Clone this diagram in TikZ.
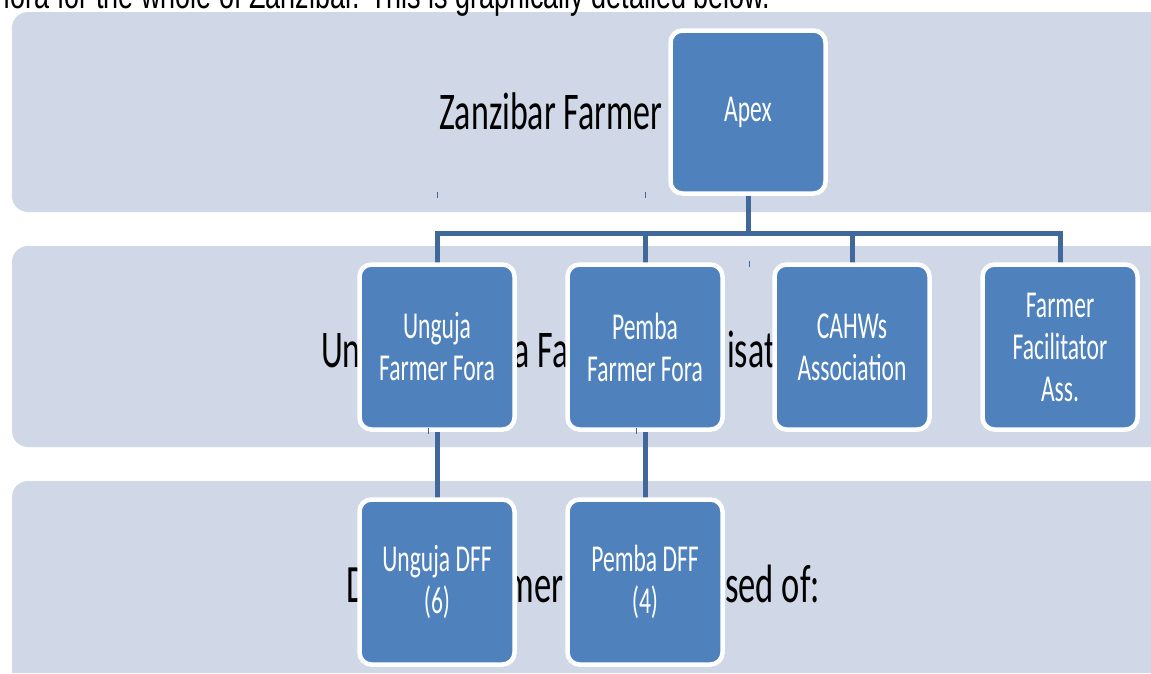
\documentclass[tikz,border=0pt]{standalone}
\usepackage{fontspec}
\newfontfamily\bandfont{Carlito}[FakeStretch=0.64]
\newfontfamily\boxfont{Carlito}[FakeStretch=0.62]
\newfontfamily\docfont{Liberation Sans}[FakeStretch=0.71]
\definecolor{bandfill}{HTML}{D0D8E8}
\definecolor{boxblue}{HTML}{4F81BD}
\definecolor{connblue}{HTML}{40689A}
\pgfdeclarelayer{background}
\pgfdeclarelayer{bands}
\pgfsetlayers{bands,background,main}
\tikzset{
  band/.style={fill=bandfill, draw=none},
  bandtext/.style={anchor=base west, inner sep=0pt, text=black, font=\bandfont\fontsize{53}{60}\selectfont},
  orgbox/.style={fill=boxblue, draw=white, line width=4.5pt, rounded corners=12pt,
    minimum width=155pt, minimum height=165pt, inner sep=0pt, outer sep=0pt,
    align=center, text=white, font=\boxfont\fontsize{38}{42}\selectfont},
  conn/.style={draw=connblue, line width=5pt},
  tick/.style={draw=connblue, line width=1pt}
}
\begin{document}
\begin{tikzpicture}[x=1pt, y=-1pt]
\useasboundingbox (0,0) rectangle (1151,673);
% bands
\begin{pgfonlayer}{bands}
\fill[white] (0,0) rectangle (1151,673);
\path[band] (1151,12) [rounded corners=16pt] -- (12,12) -- (12,212) [sharp corners] -- (1151,212) -- cycle;
\path[band] (1151,246) [rounded corners=16pt] -- (12,246) -- (12,447) [sharp corners] -- (1151,447) -- cycle;
\path[band] (1151,481) [rounded corners=16pt] -- (12,481) [sharp corners] -- (12,673) -- (1151,673) -- cycle;
\end{pgfonlayer}
% document text above the diagram
\begin{scope}
\clip (0,0) rectangle (1151,673);
\node[anchor=base west, inner sep=0pt, font=\docfont\fontsize{38}{40}\selectfont] (doc) at (3,8) {fora for the whole of Zanzibar. This is graphically detailed below.};
\end{scope}
\node[bandtext] (t1) at (439,129) {Zanzibar Farmer Fora};
\node[bandtext] (t2) at (321,367) {Unguja, Pemba Farmer Organisations};
\node[bandtext, font=\bandfont\fontsize{54}{60}\selectfont] (t3) at (346,602) {District\kern9pt{} Farmer Fora\kern-12pt{} composed of:};
% boxes
\node[orgbox, minimum height=163pt] (apex) at (748,112) {Apex};
\node[orgbox] (uff) at (437,347) {Unguja\\Farmer Fora};
\node[orgbox] (pff) at (645,347) {Pemba\\Farmer Fora};
\node[orgbox] (cahw) at (852,347) {CAHWs\\Association};
\node[orgbox] (ffa) at (1060,347) {Farmer\\Facilitator\\Ass.};
\node[orgbox] (udff) at (437,582) {Unguja DFF\\(6)};
\node[orgbox] (pdff) at (645,582) {Pemba DFF\\(4)};
% connectors
\coordinate (bus) at (748,233);
\begin{pgfonlayer}{background}
\draw[conn] (apex.south) -- (bus);
\draw[conn] (uff.north) |- (bus) -| (ffa.north);
\draw[conn] (pff.north) -- (pff.north |- bus);
\draw[conn] (cahw.north) -- (cahw.north |- bus);
\draw[conn] (uff.south) -- (udff.north);
\draw[conn] (pff.south) -- (pdff.north);
\end{pgfonlayer}
% small stray marks
\draw[tick] (437,192) -- (437,198);
\draw[tick] (645,192) -- (645,198);
\draw[tick] (749,261) -- (749,267);
\draw[tick] (428,428) -- (428,434);
\draw[tick] (636,428) -- (636,434);
\end{tikzpicture}
\end{document}
